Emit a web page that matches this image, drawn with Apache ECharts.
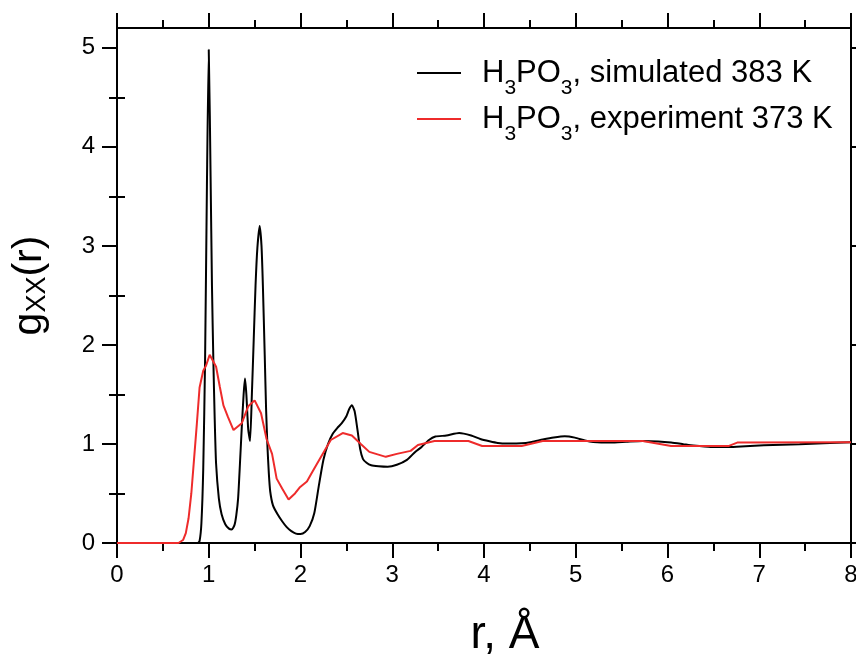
<!DOCTYPE html>
<html><head><meta charset="utf-8">
<script src="https://cdn.jsdelivr.net/npm/echarts@6/dist/echarts.min.js"></script>
<style>html,body{margin:0;padding:0;background:#fff}#c{width:856px;height:655px}</style>
</head><body><div id="c"></div>
<script>
// simulated H3PO3 383 K
const simR = [0, 0.88, 0.90, 0.92, 0.94, 0.96, 0.98, 1.00, 1.02, 1.035, 1.05, 1.065, 1.08, 1.11, 1.14, 1.18, 1.22, 1.25, 1.28, 1.30, 1.32, 1.34, 1.36, 1.38, 1.395, 1.41, 1.43, 1.45, 1.47, 1.49, 1.51, 1.53, 1.555, 1.575, 1.59, 1.61, 1.625, 1.64, 1.655, 1.67, 1.70, 1.75, 1.80, 1.85, 1.90, 1.95, 2.00, 2.05, 2.10, 2.15, 2.20, 2.25, 2.30, 2.35, 2.40, 2.45, 2.50, 2.53, 2.56, 2.59, 2.62, 2.65, 2.68, 2.72, 2.77, 2.85, 2.95, 3.05, 3.16, 3.25, 3.32, 3.40, 3.47, 3.59, 3.73, 3.86, 3.96, 4.06, 4.15, 4.25, 4.41, 4.52, 4.64, 4.76, 4.88, 4.99, 5.10, 5.19, 5.38, 5.55, 5.73, 5.90, 6.04, 6.17, 6.28, 6.47, 6.67, 6.85, 7.05, 7.25, 7.44, 7.70, 8.00];
const simG = [0, 0, 0.02, 0.2, 0.75, 1.85, 3.6, 4.98, 3.7, 2.6, 1.85, 1.25, 0.8, 0.45, 0.29, 0.19, 0.145, 0.137, 0.18, 0.28, 0.45, 0.8, 1.17, 1.5, 1.66, 1.5, 1.15, 1.03, 1.5, 2.05, 2.6, 2.98, 3.2, 3.0, 2.6, 1.9, 1.35, 0.97, 0.7, 0.52, 0.38, 0.29, 0.22, 0.16, 0.12, 0.095, 0.09, 0.11, 0.17, 0.3, 0.58, 0.84, 1.0, 1.1, 1.16, 1.21, 1.28, 1.35, 1.39, 1.33, 1.15, 0.95, 0.85, 0.81, 0.785, 0.775, 0.77, 0.79, 0.84, 0.92, 0.97, 1.04, 1.075, 1.085, 1.11, 1.085, 1.05, 1.027, 1.01, 1.004, 1.006, 1.02, 1.044, 1.065, 1.078, 1.064, 1.035, 1.02, 1.014, 1.022, 1.03, 1.025, 1.014, 0.998, 0.984, 0.97, 0.97, 0.978, 0.986, 0.992, 0.997, 1.007, 1.017];
// experiment H3PO3 373 K
const expR = [0, 0.67, 0.72, 0.75, 0.78, 0.81, 0.84, 0.87, 0.90, 0.94, 0.97, 1.01, 1.08, 1.12, 1.16, 1.21, 1.27, 1.36, 1.43, 1.50, 1.57, 1.63, 1.69, 1.74, 1.80, 1.87, 1.94, 1.99, 2.07, 2.13, 2.18, 2.33, 2.46, 2.56, 2.66, 2.75, 2.93, 3.05, 3.20, 3.28, 3.46, 3.83, 3.98, 4.41, 4.64, 5.73, 6.04, 6.67, 6.76, 8.00];
const expG = [0, 0, 0.03, 0.1, 0.25, 0.5, 0.85, 1.2, 1.57, 1.74, 1.79, 1.90, 1.78, 1.58, 1.39, 1.27, 1.14, 1.21, 1.38, 1.44, 1.31, 1.05, 0.90, 0.65, 0.55, 0.44, 0.50, 0.56, 0.62, 0.72, 0.80, 1.04, 1.11, 1.085, 0.997, 0.92, 0.87, 0.90, 0.93, 0.99, 1.03, 1.03, 0.98, 0.98, 1.03, 1.03, 0.98, 0.98, 1.014, 1.017];
const seriesNames = ['H3PO3, simulated 383 K', 'H3PO3, experiment 373 K'];
const legendRich = ['{g| }{n|H}{s|3}{n|PO}{s|3}{n|, simulated 383 K}', '{g| }{n|H}{s|3}{n|PO}{s|3}{n|, experiment 373 K}'];
const yMajor = [0, 1, 2, 3, 4, 5];
const yMinor = [0.5, 1.5, 2.5, 3.5, 4.5];
const xMin = 0, xMax = 8, yMin = 0, yMax = 5.2;

const FONT = 'Liberation Sans, Arial, Helvetica, sans-serif';
const zip = (a, b) => a.map((v, i) => [v, b[i]]);
const line = {show: true, onZero: false, lineStyle: {color: '#000', width: 2}};
const majTick = (vals) => ({show: true, inside: false, length: 15, lineStyle: {color: '#000', width: 2}, customValues: vals});

const chart = echarts.init(document.getElementById('c'), null, {renderer: 'canvas'});
chart.setOption({
  animation: false,
  backgroundColor: '#fff',
  grid: {left: 117, right: 5, top: 28, bottom: 112, containLabel: false, outerBoundsMode: 'none'},
  legend: {
    orient: 'vertical', left: 417, top: 58, padding: 0, itemGap: 5,
    itemWidth: 44, itemHeight: 2, icon: 'rect',
    data: seriesNames,
    formatter: (name) => legendRich[seriesNames.indexOf(name)],
    textStyle: {
      color: '#000', fontFamily: FONT,
      rich: {
        g: {width: 16, fontSize: 31, lineHeight: 30, verticalAlign: 'top'},
        n: {fontSize: 31, lineHeight: 30, verticalAlign: 'top', color: '#000', fontFamily: FONT},
        s: {fontSize: 21, lineHeight: 21, verticalAlign: 'top', padding: [20, 0, 0, 0], color: '#000', fontFamily: FONT}
      }
    }
  },
  xAxis: [
    {type: 'value', position: 'bottom', min: xMin, max: xMax, interval: 1,
     axisLine: line,
     axisTick: {show: true, inside: false, length: 15, lineStyle: {color: '#000', width: 2}},
     minorTick: {show: true, splitNumber: 2, length: 8, lineStyle: {color: '#000', width: 2}},
     splitLine: {show: false},
     axisLabel: {show: true, margin: 20, color: '#000', fontSize: 24, fontFamily: FONT},
     name: 'r, Å', nameLocation: 'middle', nameGap: 69,
     nameTextStyle: {fontSize: 46, color: '#000', fontFamily: FONT, padding: [0, 0, 0, 42]}
    },
    {type: 'value', position: 'top', min: xMin, max: xMax, interval: 1,
     axisLine: line,
     axisTick: {show: true, inside: false, length: 15, lineStyle: {color: '#000', width: 2}},
     minorTick: {show: true, splitNumber: 2, length: 8, lineStyle: {color: '#000', width: 2}},
     splitLine: {show: false}, axisLabel: {show: false}
    }
  ],
  yAxis: [
    {type: 'value', position: 'left', min: yMin, max: yMax, interval: 1,
     axisLine: line, axisTick: majTick(yMajor), splitLine: {show: false},
     axisLabel: {show: true, margin: 22, color: '#000', fontSize: 24, fontFamily: FONT, customValues: yMajor},
     name: '{n|g}{s|XX}{n|(r)}', nameLocation: 'middle', nameGap: 68, nameRotate: 90,
     nameTextStyle: {
       color: '#000', fontFamily: FONT,
       rich: {
         n: {fontSize: 41, lineHeight: 40, verticalAlign: 'top', color: '#000', fontFamily: FONT},
         s: {fontSize: 27, lineHeight: 26, verticalAlign: 'top', padding: [15, 0, 0, 0], color: '#000', fontFamily: FONT}
       }
     }
    },
    {type: 'value', position: 'right', min: yMin, max: yMax, interval: 1,
     axisLine: line, axisTick: majTick(yMajor), splitLine: {show: false}, axisLabel: {show: false}
    },
    {type: 'value', position: 'left', min: yMin, max: yMax, interval: 1,
     axisLine: {show: false},
     axisTick: {show: true, inside: false, length: 8, lineStyle: {color: '#000', width: 2}, customValues: yMinor},
     splitLine: {show: false}, axisLabel: {show: false}
    },
    {type: 'value', position: 'right', min: yMin, max: yMax, interval: 1,
     axisLine: {show: false},
     axisTick: {show: true, inside: false, length: 8, lineStyle: {color: '#000', width: 2}, customValues: yMinor},
     splitLine: {show: false}, axisLabel: {show: false}
    }
  ],
  series: [
    {name: seriesNames[0], type: 'line', data: zip(simR, simG), showSymbol: false, symbol: 'none',
     smooth: 0.2, lineStyle: {color: '#000', width: 2}, itemStyle: {color: '#000'}, z: 3},
    {name: seriesNames[1], type: 'line', data: zip(expR, expG), showSymbol: false, symbol: 'none',
     smooth: false, lineStyle: {color: '#ee2b2b', width: 2}, itemStyle: {color: '#ee2b2b'}, z: 4}
  ]
});
</script>
</body></html>
